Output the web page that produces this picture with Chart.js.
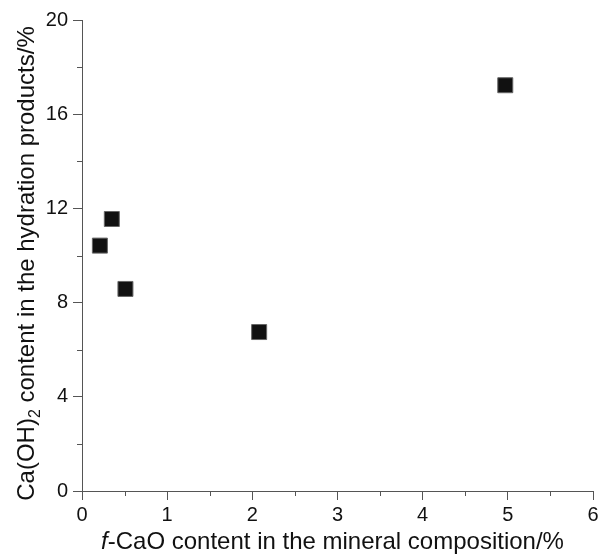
<!DOCTYPE html>
<html>
<head>
<meta charset="utf-8">
<script src="https://cdn.jsdelivr.net/npm/chart.js@4"></script>
<style>
  html, body { margin: 0; padding: 0; background: #fff; }
  #wrap { width: 598px; height: 558px; }
</style>
</head>
<body>
<div id="wrap"><canvas id="chart" width="598" height="558"></canvas></div>
<script>
// values
var freeCaO = [0.21, 0.35, 0.51, 2.08, 4.97];
var caOH2 = [10.42, 11.55, 8.58, 6.75, 17.23];
var xTicks = [0, 1, 2, 3, 4, 5, 6];
var yTicks = [0, 4, 8, 12, 16, 20];

var FONT = '"Liberation Sans", Arial, Helvetica, sans-serif';
var AXIS = '#555';
var INK = '#111';

// minor ticks between the major ones + axis titles (mixed styles / subscript)
var axisExtras = {
  id: 'axisExtras',
  afterDraw: function(chart) {
    var ctx = chart.ctx;
    var xs = chart.scales.x, ys = chart.scales.y, area = chart.chartArea;
    var i, p;
    ctx.save();
    ctx.strokeStyle = AXIS;
    ctx.lineWidth = 1;
    ctx.beginPath();
    for (i = 0; i < xTicks.length - 1; i++) {
      p = Math.round(xs.getPixelForValue((xTicks[i] + xTicks[i + 1]) / 2)) + 0.5;
      ctx.moveTo(p, area.bottom);
      ctx.lineTo(p, area.bottom + 5);
    }
    for (i = 0; i < yTicks.length - 1; i++) {
      p = Math.round(ys.getPixelForValue((yTicks[i] + yTicks[i + 1]) / 2)) + 0.5;
      ctx.moveTo(area.left, p);
      ctx.lineTo(area.left - 5, p);
    }
    ctx.stroke();

    ctx.fillStyle = INK;
    ctx.textBaseline = 'alphabetic';
    ctx.textAlign = 'left';

    // x title: italic f + rest
    var cx = (area.left + area.right) / 2 - 5;
    var f1 = 'italic 24px ' + FONT, f2 = '24px ' + FONT;
    var a = 'f', b = '-CaO content in the mineral composition/%';
    ctx.font = f1; var wa = ctx.measureText(a).width;
    ctx.font = f2; var wb = ctx.measureText(b).width;
    var x0 = cx - (wa + wb) / 2, base = 549;
    ctx.font = f1; ctx.fillText(a, x0, base);
    ctx.font = f2; ctx.fillText(b, x0 + wa, base);

    // y title: Ca(OH)2 with subscript
    var cy = (area.top + area.bottom) / 2 + 8;
    ctx.translate(34, cy);
    ctx.rotate(-Math.PI / 2);
    var s1 = 'Ca(OH)', s2 = '2', s3 = ' content in the hydration products/%';
    var fs = '16px ' + FONT;
    ctx.font = f2; var w1 = ctx.measureText(s1).width, w3 = ctx.measureText(s3).width;
    ctx.font = fs; var w2 = ctx.measureText(s2).width;
    var sx = -(w1 + w2 + w3) / 2;
    ctx.font = f2; ctx.fillText(s1, sx, 0);
    ctx.font = fs; ctx.fillText(s2, sx + w1, 6);
    ctx.font = f2; ctx.fillText(s3, sx + w1 + w2, 0);
    ctx.restore();
  }
};

function fixedTicks(list) {
  return function(scale) {
    scale.ticks = list.map(function(v) { return { value: v }; });
  };
}

new Chart(document.getElementById('chart'), {
  type: 'scatter',
  data: {
    datasets: [{
      data: freeCaO.map(function(v, i) { return { x: v, y: caOH2[i] }; }),
      pointStyle: 'rect',
      pointRadius: 10.6,
      backgroundColor: INK,
      borderColor: '#666',
      borderWidth: 1
    }]
  },
  options: {
    responsive: false,
    animation: false,
    layout: { autoPadding: false, padding: { top: 20, right: 5, left: 0, bottom: 0 } },
    plugins: { legend: { display: false }, tooltip: { enabled: false } },
    scales: {
      x: {
        type: 'linear', min: 0, max: 6,
        afterBuildTicks: fixedTicks(xTicks),
        afterFit: function(s) { s.height = 67; s.paddingLeft = 0; s.paddingRight = 0; },
        grid: { drawOnChartArea: false, tickLength: 9, color: AXIS },
        border: { color: AXIS },
        ticks: { font: { size: 20, family: FONT }, color: INK, padding: 3, maxRotation: 0 }
      },
      y: {
        type: 'linear', min: 0, max: 20,
        afterBuildTicks: fixedTicks(yTicks),
        afterFit: function(s) { s.width = 82; s.paddingTop = 0; s.paddingBottom = 0; },
        grid: { drawOnChartArea: false, tickLength: 9, color: AXIS },
        border: { color: AXIS },
        ticks: { font: { size: 20, family: FONT }, color: INK, padding: 5 }
      }
    }
  },
  plugins: [axisExtras]
});
</script>
</body>
</html>
